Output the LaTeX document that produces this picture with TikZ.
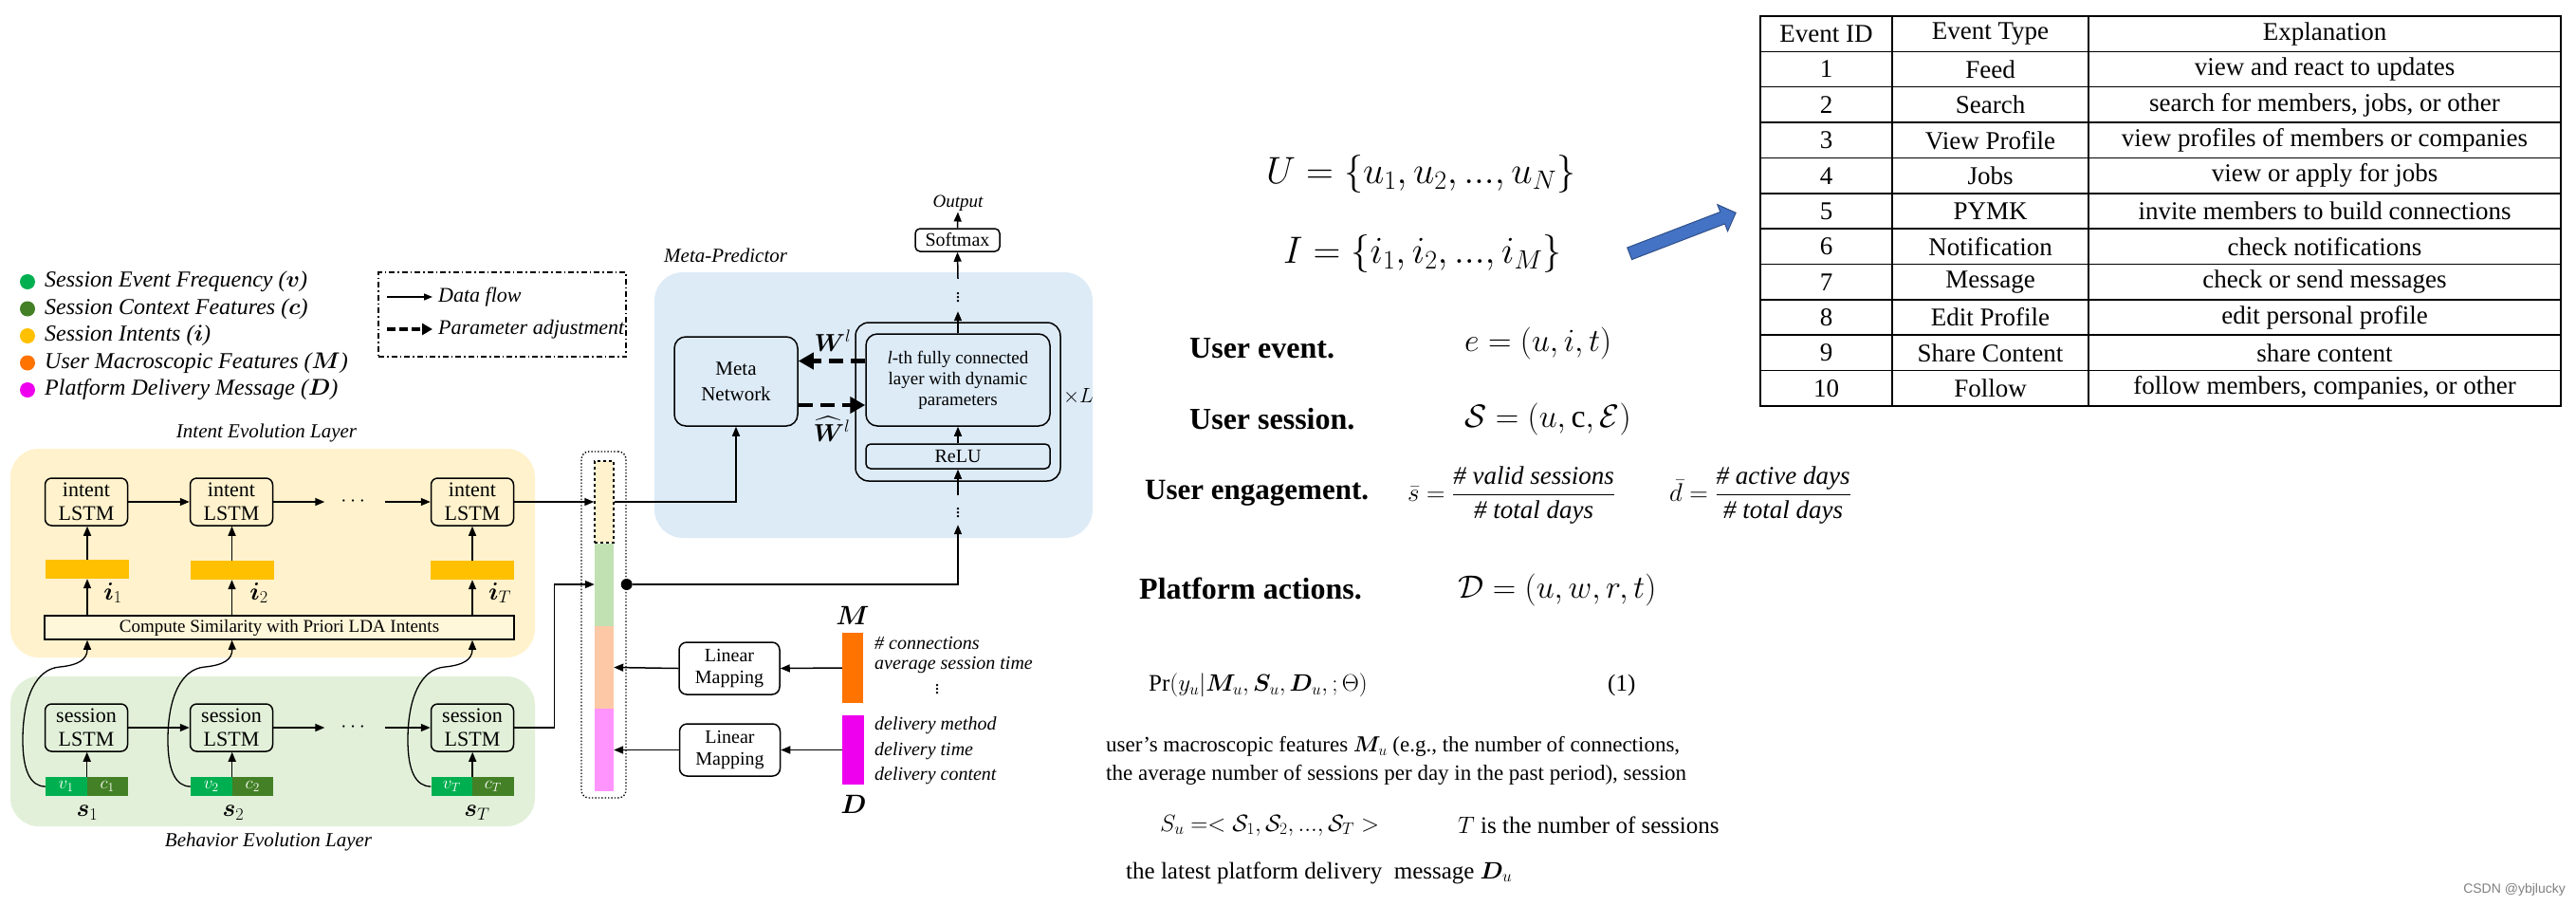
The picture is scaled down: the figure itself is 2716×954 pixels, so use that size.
\RequirePackage{fix-cm}
\documentclass[tikz,border=0pt]{standalone}
\usepackage{amsmath,amssymb,bm}
\usepackage{fontspec}
\setmainfont{Liberation Serif}
\newfontfamily\markfont{Liberation Sans}
\usetikzlibrary{arrows.meta,shapes.arrows}

% colours
\definecolor{freqgreen}{HTML}{00B050}
\definecolor{ctxgreen}{HTML}{438026}
\definecolor{intentorange}{HTML}{FFC000}
\definecolor{macroorange}{HTML}{FF7300}
\definecolor{delivmagenta}{HTML}{EE00EE}
\definecolor{intentbg}{HTML}{FFF2CC}
\definecolor{behavbg}{HTML}{E2F0D9}
\definecolor{metabg}{HTML}{DDEBF7}
\definecolor{simfill}{HTML}{FFF7DA}
\definecolor{colgreen}{HTML}{C1E1B3}
\definecolor{colpeach}{HTML}{FCC8A6}
\definecolor{colpink}{HTML}{FF94FF}
\definecolor{pointblue}{HTML}{4472C4}

\newcommand{\pxsize}[2]{\fontsize{#1}{#2}\selectfont}

\tikzset{
  lstm/.style={draw, line width=1.5pt, rounded corners=7pt, minimum width=87pt,
    minimum height=50pt, inner sep=0pt, align=center, font=\pxsize{22}{25}},
  intentbar/.style={fill=intentorange, minimum width=88pt, minimum height=20pt, inner sep=0pt},
  halfbar/.style={minimum width=43.5pt, minimum height=20pt, inner sep=0pt,
    text=white, font=\pxsize{19}{19}},
  colbar/.style={minimum width=20pt, minimum height=87pt, inner sep=0pt},
  mapbox/.style={draw, line width=1.5pt, rounded corners=8pt, minimum width=106pt,
    minimum height=55pt, inner sep=0pt, align=center, font=\pxsize{20}{23}},
  flow/.style={line width=1.5pt, -{Triangle[length=10pt,width=8pt]}},
  adjust/.style={line width=4.5pt, dash pattern=on 15pt off 8pt,
    -{Triangle[length=16pt,width=17pt]}},
  txt/.style={anchor=west, inner sep=0pt},
}

\begin{document}
\begin{tikzpicture}[x=1pt, y=-1pt]
\useasboundingbox (0,0) rectangle (2716,954);
\fill[white] (0,0) rectangle (2716,954);

% legend
\foreach \col/\entry [count=\k] in {freqgreen/{Session Event Frequency ($\bm{v}$)},
    ctxgreen/{Session Context Features ($\bm{c}$)},
    intentorange/{Session Intents ($\bm{i}$)},
    macroorange/{User Macroscopic Features ($\bm{M}$)},
    delivmagenta/{Platform Delivery Message ($\bm{D}$)}}
{
  \node[circle, fill=\col, minimum size=16pt, inner sep=0pt] (key\k) at (29,{268.5+28.5*\k}) {};
  \node[txt, font=\pxsize{24}{24}\itshape] (keytxt\k) at (47,{268.5+28.5*\k}) {\entry};
}
\node[draw, line width=1.4pt, dash pattern=on 6pt off 3pt on 1.5pt off 3pt,
  minimum width=261pt, minimum height=89pt, inner sep=0pt] (keybox) at (529.5,331.5) {};
\node[txt, font=\pxsize{22}{22}\itshape] (flowtxt) at (462,313) {Data flow};
\node[txt, font=\pxsize{22}{22}\itshape] (adjtxt) at (462,347) {Parameter adjustment};
\coordinate (flowstart) at (408,313);
\coordinate (adjstart) at (408,347);
\draw[line width=1.5pt, -{Triangle[length=9pt,width=7pt]}, shorten >=6pt] (flowstart) -- (flowtxt.west);
\draw[line width=3.5pt, dash pattern=on 9pt off 4pt, -{Triangle[length=11pt,width=12pt]}, shorten >=6pt] (adjstart) -- (adjtxt.west);

% intent evolution layer
\fill[intentbg, rounded corners=30pt] (11,473) rectangle (564,693);
\node[font=\pxsize{21}{21}\itshape] (intenttitle) at (281,456) {Intent Evolution Layer};
\node[lstm] (int1) at (91,529) {intent\\LSTM};
\node[lstm] (int2) at (244,529) {intent\\LSTM};
\node[lstm] (int3) at (498,529) {intent\\LSTM};
\node[inner sep=0pt, minimum width=63pt, font=\pxsize{22}{22}] (idots) at (374,529) {$\cdots$};
\node[intentbar] (ibar1) at (92,600) {};
\node[intentbar] (ibar2) at (244.5,601) {};
\node[intentbar] (ibar3) at (498,601) {};
\node[font=\pxsize{26}{26}] (ilab1) at (119,625) {$\bm{i}_1$};
\node[font=\pxsize{26}{26}] (ilab2) at (273,625) {$\bm{i}_2$};
\node[font=\pxsize{26}{26}] (ilab3) at (527,625) {$\bm{i}_T$};
\node[draw, line width=1.5pt, fill=simfill, minimum width=495pt, minimum height=25pt,
  inner sep=0pt, font=\pxsize{19}{19}] (sim) at (294.5,661.5) {Compute Similarity with Priori LDA Intents};

\draw[flow] (int1) -- (int2);
\draw[flow] (int2) -- (idots);
\draw[flow] (idots) -- (int3);
\foreach \k in {1,2,3} {
  \draw[flow] (ibar\k.north) -- (ibar\k.north |- int\k.south);
  \draw[flow] (sim.north -| ibar\k) -- (ibar\k.south);
}

% behavior evolution layer
\fill[behavbg, rounded corners=30pt] (11,713) rectangle (564,871);
\node[font=\pxsize{21}{21}\itshape] (behavtitle) at (283,887) {Behavior Evolution Layer};
\node[lstm] (ses1) at (91,767) {session\\LSTM};
\node[lstm] (ses2) at (244,767) {session\\LSTM};
\node[lstm] (ses3) at (498,767) {session\\LSTM};
\node[inner sep=0pt, minimum width=63pt, font=\pxsize{22}{22}] (sdots) at (374,767) {$\cdots$};
\node[halfbar, fill=freqgreen] (v1) at (69.75,829) {$v_1$};
\node[halfbar, fill=ctxgreen] (c1) at (113.25,829) {$c_1$};
\node[halfbar, fill=freqgreen] (v2) at (222.75,829) {$v_2$};
\node[halfbar, fill=ctxgreen] (c2) at (266.25,829) {$c_2$};
\node[halfbar, fill=freqgreen] (v3) at (476.25,829) {$v_T$};
\node[halfbar, fill=ctxgreen] (c3) at (519.75,829) {$c_T$};
\node[font=\pxsize{26}{26}] (slab1) at (92,857) {$\bm{s}_1$};
\node[font=\pxsize{26}{26}] (slab2) at (246,857) {$\bm{s}_2$};
\node[font=\pxsize{26}{26}] (slab3) at (503,857) {$\bm{s}_T$};

\draw[flow] (ses1) -- (ses2);
\draw[flow] (ses2) -- (sdots);
\draw[flow] (sdots) -- (ses3);
\foreach \k/\x in {1/48,2/201,3/454} {
  \draw[flow] (v\k.north east) -- (v\k.north east |- ses\k.south);
  \draw[line width=1.3pt, -{Triangle[length=10pt,width=8pt]}] (v\k.west)
    .. controls ({\x-16},829) and ({\x-24},812) .. ({\x-24},780)
    .. controls ({\x-24},735) and ({\x-10},705) .. ({\x+15},703)
    .. controls ({\x+35},701) and ({\x+44},695) .. (sim.south -| ibar\k);
}

% concatenated vector
\node[colbar, fill=colgreen] (colS) at (637,616) {};
\node[colbar, fill=colpeach] (colM) at (637,703.5) {};
\node[colbar, fill=colpink] (colD) at (637,790.5) {};
\node[colbar, fill=intentbg, draw, dashed, line width=1.4pt, minimum height=86pt] (colI) at (637,529) {};
\node[draw, dotted, line width=1.4pt, rounded corners=8pt, minimum width=47pt,
  minimum height=365pt, inner sep=0pt] (colbox) at (636.5,658.5) {};
\node[circle, fill, inner sep=0pt, minimum size=12pt] (junc) at (colbox.east |- colS) {};

% user macroscopic features and delivery message
\node[mapbox] (lin1) at (769,704.5) {Linear\\Mapping};
\node[mapbox] (lin2) at (769.5,790.5) {Linear\\Mapping};
\node[fill=macroorange, minimum width=22pt, minimum height=74pt, inner sep=0pt] (mbar) at (899,704) {};
\node[fill=delivmagenta, minimum width=23pt, minimum height=73pt, inner sep=0pt] (dbar) at (899.5,790.5) {};
\node[font=\pxsize{28}{28}] (mlab) at (899,649) {$\bm{M}$};
\node[font=\pxsize{28}{28}] (dlab) at (900,848) {$\bm{D}$};
\node[txt, font=\pxsize{20}{20}\itshape] (mtxt1) at (922,678) {\# connections};
\node[txt, font=\pxsize{20}{20}\itshape] (mtxt2) at (922,701) {average session time};
\node[font=\pxsize{20}{20}] (mtxt3) at (988,724) {$\vdots$};
\node[txt, font=\pxsize{20}{20}\itshape] (dtxt1) at (922,765) {delivery method};
\node[txt, font=\pxsize{20}{20}\itshape] (dtxt2) at (922,792) {delivery time};
\node[txt, font=\pxsize{20}{20}\itshape] (dtxt3) at (922,818) {delivery content};

\draw[flow] (mbar.west) -- (lin1.east);
\draw[flow] (lin1.west) -- (colM.east);
\draw[flow] (dbar.west) -- (lin2.east);
\draw[flow] (lin2.west) -- (colD.east);
\draw[flow] (int3.east) -- (colI.west);
\draw[flow] (ses3.east) -- ++(42,0) |- (colS.west);

% meta-predictor
\fill[metabg, rounded corners=30pt] (690,287) rectangle (1152,567);
\node[txt, font=\pxsize{21}{21}\itshape] (metatitle) at (700,269) {Meta-Predictor};
\node[draw, line width=1.5pt, rounded corners=12pt, minimum width=130pt, minimum height=94pt,
  inner sep=0pt, align=center, font=\pxsize{21}{27}] (meta) at (776,402) {Meta\\Network};
\node[draw, line width=1.5pt, rounded corners=14pt, minimum width=216pt, minimum height=167pt,
  inner sep=0pt] (xlbox) at (1010,423.5) {};
\node[draw, line width=1.5pt, rounded corners=12pt, minimum width=194pt, minimum height=97pt,
  inner sep=0pt, align=center, font=\pxsize{19}{22}] (fc) at (1010,400.5)
  {\textit{l}-th fully connected\\layer with dynamic\\parameters};
\node[draw, line width=1.5pt, rounded corners=5pt, minimum width=194pt, minimum height=26pt,
  inner sep=0pt, font=\pxsize{20}{20}] (relu) at (1010,481) {ReLU};
\node[draw, line width=1.5pt, rounded corners=5pt, minimum width=89pt, minimum height=24pt,
  inner sep=0pt, font=\pxsize{20}{20}] (softmax) at (1009.5,253) {Softmax};
\node[font=\pxsize{19}{19}\itshape, inner sep=1pt] (output) at (1010,214) {Output};
\node[font=\pxsize{22}{22}] (timesL) at (1137,418) {$\times L$};
\node[inner sep=0pt, minimum height=31pt, font=\pxsize{20}{20}] (vdlow) at (1010,537.5) {$\vdots$};
\node[inner sep=0pt, minimum height=34pt, font=\pxsize{20}{20}] (vdtop) at (1010,311) {$\vdots$};
\node[font=\pxsize{26}{26}] (wlab) at (878,359) {$\bm{W}^l$};
\node[font=\pxsize{26}{26}] (whatlab) at (877,452) {$\widehat{\bm{W}}^l$};

\draw[adjust] ([yshift=20pt]fc.west) -- ([yshift=20pt]fc.west -| meta.east);
\draw[adjust] ([yshift=-25pt]meta.east) -- ([yshift=-25pt]meta.east -| fc.west);
\draw[flow] (colI.east) -| (meta.south);
\draw[flow] (junc) -| (vdlow.south);
\draw[flow] (vdlow.north) -- (relu.south);
\draw[flow] (relu.north) -- (fc.south);
\draw[flow] (fc.north) -- (vdtop.south);
\draw[flow] (vdtop.north) -- (softmax.south);
\draw[flow] (softmax.north) -- (output.south);

% definitions
\node[txt, font=\pxsize{40}{40}] (setU) at (1335,183) {$U = \{u_1, u_2, ..., u_N\}$};
\node[txt, font=\pxsize{40}{40}] (setI) at (1353,267) {$I = \{i_1, i_2, ..., i_M\}$};
\node[single arrow, fill=pointblue, draw=pointblue!70!black, line width=1pt,
  minimum height=120pt, minimum width=30pt, inner sep=6pt, single arrow head extend=8pt,
  rotate=21] (pointer) at (1771,247) {};
\node[txt, font=\pxsize{32}{32}\bfseries] (evlab) at (1254,367) {User event.};
\node[txt, font=\pxsize{34}{34}] (evdef) at (1544,362) {$e = (u, i, t)$};
\node[txt, font=\pxsize{32}{32}\bfseries] (seslab) at (1254,442) {User session.};
\node[txt, font=\pxsize{34}{34}] (sesdef) at (1544,442) {$\mathcal{S} = (u, \mathrm{c}, \mathcal{E})$};
\node[txt, font=\pxsize{31}{31}\bfseries] (englab) at (1207,520) {User engagement.};
\node[txt, font=\pxsize{27}{27}] (engs) at (1484,522)
  {$\bar{s} = \dfrac{\text{\itshape\# valid sessions}}{\text{\itshape\# total days}}$};
\node[txt, font=\pxsize{27}{27}] (engd) at (1760,522)
  {$\bar{d} = \dfrac{\text{\itshape\# active days}}{\text{\itshape\# total days}}$};
\node[txt, font=\pxsize{32}{32}\bfseries] (actlab) at (1201,620) {Platform actions.};
\node[txt, font=\pxsize{34}{34}] (actdef) at (1537,622) {$\mathcal{D} = (u, w, r, t)$};
\node[txt, font=\pxsize{25}{25}] (prob) at (1211,722)
  {$\Pr(y_u | \bm{M}_u, \bm{S}_u, \bm{D}_u, ; \Theta)$};
\node[txt, font=\pxsize{25}{25}] (eqno) at (1695,722) {(1)};
\node[txt, align=left, font=\pxsize{23}{30}] (macrotxt) at (1166,802)
  {user’s macroscopic features $\bm{M}_u$ (e.g., the number of connections,\\
   the average number of sessions per day in the past period), session};
\node[txt, font=\pxsize{25}{25}] (seqdef) at (1223,870)
  {$S_u = < \mathcal{S}_1, \mathcal{S}_2, ..., \mathcal{S}_T >$};
\node[txt, font=\pxsize{25}{25}] (seqnote) at (1537,870) {$T$ is the number of sessions};
\node[txt, font=\pxsize{25}{25}] (delivtxt) at (1187,920) {the latest platform delivery \ message $\bm{D}_u$};

% event table
\draw[line width=1.5pt] (1856,17) rectangle (2700,428);
\foreach \r in {1,...,10}
  \draw[line width=1.5pt] (1856,{17+37.36*\r}) -- (2700,{17+37.36*\r});
\draw[line width=1.5pt] (1995,17) -- (1995,428);
\draw[line width=1.5pt] (2202,17) -- (2202,428);
\node[font=\pxsize{27}{27}] (hid) at (1925.5,35.7) {Event ID};
\node[font=\pxsize{27}{27}] (htype) at (2098.5,35.7) {Event Type};
\node[font=\pxsize{27}{27}] (hexpl) at (2451,35.7) {Explanation};
\foreach \kind/\expl [count=\r] in {Feed/view and react to updates,
    Search/{search for members, jobs, or other},
    View Profile/view profiles of members or companies,
    Jobs/view or apply for jobs,
    PYMK/invite members to build connections,
    Notification/check notifications,
    Message/check or send messages,
    Edit Profile/edit personal profile,
    Share Content/share content,
    Follow/{follow members, companies, or other}}
{
  \node[font=\pxsize{27}{27}] (eid\r) at (1925.5,{17+37.36*(\r+0.5)}) {\r};
  \node[font=\pxsize{27}{27}] (etype\r) at (2098.5,{17+37.36*(\r+0.5)}) {\kind};
  \node[font=\pxsize{27}{27}] (eexpl\r) at (2451,{17+37.36*(\r+0.5)}) {\expl};
}

% watermark
\node[font=\markfont\pxsize{14}{14}, text=gray] (mark) at (2651,938) {CSDN @ybjlucky};
\end{tikzpicture}
\end{document}
